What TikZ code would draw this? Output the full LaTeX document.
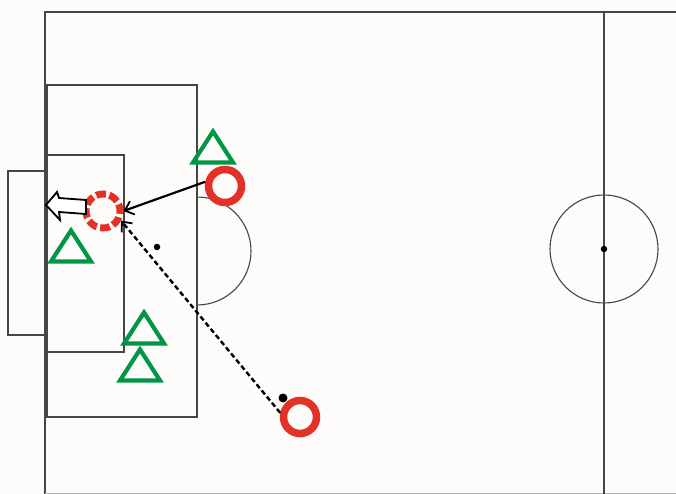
\documentclass[tikz,border=0pt]{standalone}
\usetikzlibrary{arrows.meta}
\definecolor{pitchline}{RGB}{70,70,70}
\definecolor{attred}{RGB}{226,50,40}
\definecolor{defgreen}{RGB}{0,150,70}
\definecolor{bg}{RGB}{253,252,251}
\tikzset{
  line/.style={draw=pitchline, line width=1.1pt},
  attacker/.style={circle, draw=attred, line width=7.5pt, minimum size=33pt, inner sep=0pt},
  receiver/.style={circle, draw=attred, line width=7pt, minimum size=34pt, inner sep=0pt, dash pattern=on 9.8pt off 3.55pt, dash phase=3pt},
  spot/.style={circle, fill=black, inner sep=0pt, minimum size=6.5pt},
  ballnode/.style={circle, fill=black, inner sep=0pt, minimum size=9pt},
  pass/.style={draw=black, line width=2.2pt, -{Straight Barb[length=8pt,width=14pt,line width=1.8pt]}},
  run/.style={draw=black, line width=2.4pt, dash pattern=on 5pt off 3pt, -{Straight Barb[length=8pt,width=14pt,line width=1.8pt]}},
  defender/.pic={\draw[defgreen, line width=4.2pt, line join=miter] (0,-15.5) -- (20,15.5) -- (-20,15.5) -- cycle;}
}
\begin{document}
\begin{tikzpicture}[x=1pt,y=-1pt]
\fill[bg] (0,0) rectangle (676,494);
\useasboundingbox (0,0) rectangle (676,494);
% pitch
\draw[line] (676,12) -- (45,12) -- (45,494);
\draw[draw=pitchline!40, line width=0.8pt] (45,493) -- (676,493);
\draw[line] (604,12) -- (604,494);
\draw[line] (47,85) rectangle (197,417);
\draw[line] (47,155) rectangle (124,352);
\draw[line] (45,171) -- (8,171) -- (8,335) -- (45,335);
\draw[line] (197,197) arc[start angle=-90, end angle=90, radius=54];
\draw[line] (604,249) circle[radius=54];
\node[spot] (pspot) at (157,247) {};
\node[spot] (cspot) at (604,249) {};
% defenders
\pic at (213,147) {defender};
\pic at (71,246) {defender};
\pic at (144,328) {defender};
\pic at (140,365) {defender};
% attackers
\node[attacker] (att1) at (225,186) {};
\node[attacker] (att2) at (300,417) {};
\node[receiver] (recv) at (103,211) {};
\node[ballnode] (ball) at (283,398) {};
% passes
\draw[pass] (att1.168) -- (recv.east);
\draw[run] (att2.168) -- (recv.-28);
% shot arrow (hollow)
\draw[black, line width=1.8pt, fill=white, line join=miter]
  (86,200) -- (59,198) -- (57,192) -- (46,205) -- (60,220) -- (59,212) -- (86,214) -- cycle;
\end{tikzpicture}
\end{document}
